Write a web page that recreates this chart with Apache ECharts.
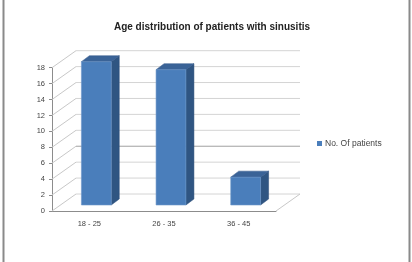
<!DOCTYPE html>
<html>
<head>
<meta charset="utf-8">
<script src="https://cdn.jsdelivr.net/npm/echarts@6/dist/echarts.min.js"></script>
<style>
html,body{margin:0;padding:0;background:#fff;}
#chart{width:412px;height:262px;}
</style>
</head>
<body>
<div id="chart"></div>
<script>
const categories=['18 - 25','26 - 35','36 - 45'];
const patients=[18,17,3.5];
const yTicks=[0,2,4,6,8,10,12,14,16,18];
const seriesName='No. Of patients';

// depth of the back wall and of the bars (pixel offsets)
const wallD=[24,-17];
const barFront=[7,-6];
const barBack=[15,-12];
const labelFont='"Liberation Sans", Arial, sans-serif';

var myChart=echarts.init(document.getElementById('chart'));

function renderWall(params,api){
    var cs=params.coordSys;
    var v=api.value(1);
    var y=api.coord([0,v])[1];
    var x0=cs.x,x1=cs.x+cs.width;
    var children=[
        {type:'line',shape:{x1:x0,y1:y,x2:x0+wallD[0],y2:y+wallD[1]},style:{stroke:'#c8c8c8',lineWidth:1}},
        {type:'line',shape:{x1:x0+wallD[0],y1:y+wallD[1],x2:x1+wallD[0],y2:y+wallD[1]},style:{stroke:v===6?'#a0a0a0':'#d4d4d4',lineWidth:1}}
    ];
    if(v===0){
        children.push({type:'line',shape:{x1:x1,y1:y,x2:x1+wallD[0],y2:y+wallD[1]},style:{stroke:'#c8c8c8',lineWidth:1}});
    }
    return {type:'group',children:children};
}

function renderBar(params,api){
    var idx=api.value(0);
    var top=api.coord([idx,api.value(1)]);
    var base=api.coord([idx,0]);
    var w=api.size([1,0])[0]*0.4;
    var l=top[0]-w/2+barFront[0],r=l+w;
    var t=top[1]+barFront[1],b=base[1]+barFront[1];
    var dx=barBack[0]-barFront[0],dy=barBack[1]-barFront[1];
    return {type:'group',children:[
        {type:'polygon',shape:{points:[[r,t],[r+dx,t+dy],[r+dx,b+dy],[r,b]]},style:{fill:'#2f5582',stroke:'#2a4d78',lineWidth:0.5}},
        {type:'polygon',shape:{points:[[l,t],[l+dx,t+dy],[r+dx,t+dy],[r,t]]},style:{fill:'#3a6397',stroke:'#34598a',lineWidth:0.5}},
        {type:'rect',shape:{x:l,y:t,width:w,height:b-t},style:{fill:'#4a7ebb',stroke:'#6d97c9',lineWidth:0.6}}
    ]};
}

var option={
    backgroundColor:'#fff',
    animation:false,
    title:{
        text:'Age distribution of patients with sinusitis',
        left:207,
        textAlign:'center',
        top:17,
        textStyle:{fontSize:10,fontWeight:'bold',color:'#222',fontFamily:labelFont}
    },
    legend:{
        left:312,
        top:134,
        itemWidth:5,
        itemHeight:5,
        icon:'rect',
        data:[{name:seriesName,itemStyle:{color:'#4a7ebb'}}],
        textStyle:{fontSize:8.5,color:'#444',fontFamily:labelFont,padding:[0,0,0,-2]}
    },
    grid:{left:52,right:136,top:67.7,bottom:51},
    xAxis:{
        type:'category',
        data:categories,
        axisLine:{lineStyle:{color:'#8c8c8c',width:1}},
        axisTick:{length:3,lineStyle:{color:'#8c8c8c'}},
        axisLabel:{fontSize:7.5,color:'#444',margin:9,fontFamily:labelFont},
        splitLine:{show:false}
    },
    yAxis:{
        type:'value',
        min:0,max:18,interval:2,
        axisLine:{show:true,lineStyle:{color:'#8c8c8c',width:1}},
        axisTick:{show:true,length:3,lineStyle:{color:'#8c8c8c'}},
        axisLabel:{fontSize:7.5,color:'#444',margin:7,fontFamily:labelFont},
        splitLine:{show:false}
    },
    series:[
        {
            type:'custom',
            name:'wall',
            z:1,
            silent:true,
            renderItem:renderWall,
            data:yTicks.map(function(v){return [0,v];})
        },
        {
            type:'custom',
            name:seriesName,
            z:3,
            itemStyle:{color:'#4a7ebb'},
            renderItem:renderBar,
            data:patients.map(function(v,i){return [i,v];})
        }
    ],
    graphic:[
        {type:'line',shape:{x1:3.5,y1:0,x2:3.5,y2:262},style:{stroke:'#8a8a8a',lineWidth:2}},
        {type:'line',shape:{x1:409.5,y1:0,x2:409.5,y2:262},style:{stroke:'#8a8a8a',lineWidth:2}}
    ]
};
myChart.setOption(option);
</script>
</body>
</html>
